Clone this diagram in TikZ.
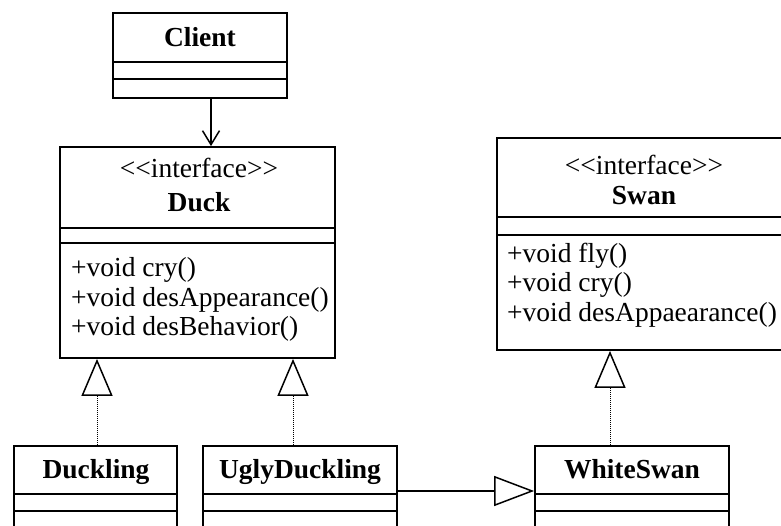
\documentclass[tikz,border=0pt]{standalone}
\usepackage{fontspec}
\setmainfont{Liberation Serif}
\usetikzlibrary{arrows.meta}
\begin{document}
\begin{tikzpicture}[x=1pt,y=-1pt,
  box/.style={draw, line width=1.8pt, rectangle, inner sep=0pt},
  divider/.style={line width=1.8pt},
  classname/.style={font=\fontsize{27.5}{30}\selectfont\bfseries, anchor=base, inner sep=0pt},
  stereo/.style={font=\fontsize{27.5}{30}\selectfont, anchor=base, inner sep=0pt},
  member/.style={font=\fontsize{27.5}{30}\selectfont, anchor=base west, inner sep=0pt},
  uses/.style={line width=1.5pt, -{Straight Barb[length=14pt,width=17pt,line width=1.5pt]}},
  realizes/.style={line width=1pt, densely dotted, -{Triangle[open,length=37pt,width=31pt,line width=1.5pt]}},
  extends/.style={line width=1.8pt, -{Triangle[open,length=40pt,width=30pt,line width=1.5pt]}}
]
\clip (0,0) rectangle (781,526);
\fill[white] (0,0) rectangle (781,526);

% Client
\node[box, minimum width=174pt, minimum height=85pt] (client) at (200,55.5) {};
\draw[divider] (113,62) -- (287,62);
\draw[divider] (113,79) -- (287,79);
\node[classname] (clientname) at (200,47) {Client};

% Duck
\node[box, minimum width=275pt, minimum height=211pt] (duck) at (197.5,252.5) {};
\draw[divider] (60,228) -- (335,228);
\draw[divider] (60,243) -- (335,243);
\node[stereo] (duckstereo) at (199,178) {<\kern0pt<interface>\kern0pt>};
\node[classname] (duckname) at (199,212) {Duck};
\node[member] (duckm1) at (71,277) {+void cry()};
\node[member] (duckm2) at (71,306) {+void desAppearance()};
\node[member] (duckm3) at (71,335) {+void desBehavior()};

% Swan
\node[box, minimum width=294pt, minimum height=212pt] (swan) at (644,244) {};
\draw[divider] (497,217) -- (791,217);
\draw[divider] (497,235) -- (791,235);
\node[stereo] (swanstereo) at (644,175) {<\kern0pt<interface>\kern0pt>};
\node[classname] (swanname) at (644,205) {Swan};
\node[member] (swanm1) at (507,263) {+void fly()};
\node[member] (swanm2) at (507,292) {+void cry()};
\node[member] (swanm3) at (507,321) {+void desAppaearance()};

% Bottom classes
\node[box, minimum width=163pt, minimum height=114pt] (duckling) at (95.5,503) {};
\node[box, minimum width=194pt, minimum height=114pt] (ugly) at (300,503) {};
\node[box, minimum width=194pt, minimum height=114pt] (white) at (632,503) {};
\draw[divider] (14,494) -- (177,494);
\draw[divider] (14,511) -- (177,511);
\draw[divider] (203,494) -- (397,494);
\draw[divider] (203,511) -- (397,511);
\draw[divider] (535,494) -- (729,494);
\draw[divider] (535,511) -- (729,511);
\node[classname] (ducklingname) at (96,478) {Duckling};
\node[classname] (uglyname) at (300,478) {UglyDuckling};
\node[classname] (whitename) at (632,478) {WhiteSwan};

% Connectors
\draw[uses] ([xshift=11pt]client.south) -- ([xshift=13.5pt]duck.north);
\draw[realizes] ([xshift=1.5pt]duckling.north) -- ([xshift=-100.5pt]duck.south);
\draw[realizes] ([xshift=-7pt]ugly.north) -- ([xshift=95.5pt]duck.south);
\draw[realizes] ([xshift=-22pt]white.north) -- ([xshift=-34pt]swan.south);
\draw[extends] ([yshift=12pt]ugly.east) -- ([yshift=12pt]white.west);
\end{tikzpicture}
\end{document}
